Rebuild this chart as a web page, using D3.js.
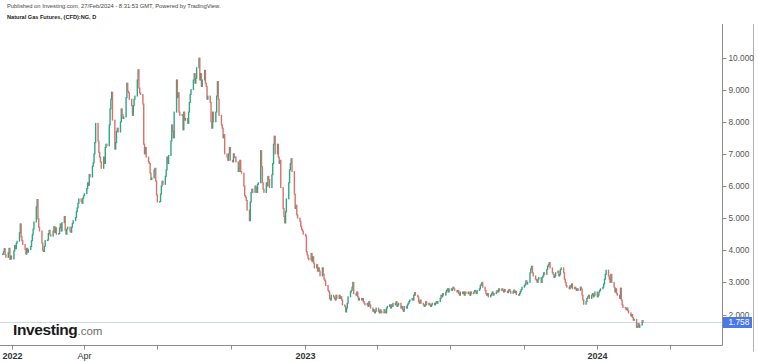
<!DOCTYPE html>
<html>
<head>
<meta charset="utf-8">
<script src="https://cdn.jsdelivr.net/npm/d3@7"></script>
<style>
  body { margin: 0; background: #fff; }
  svg { display: block; font-family: "Liberation Sans", Arial, sans-serif; }
</style>
</head>
<body>
<svg id="chart" width="758" height="362"></svg>
<script>
// daily closes, weekdays only
var closes2021 = [3.88, 3.95, 4.05, 3.86, 3.78, 3.92, 4.06, 3.72, 3.82, 3.73];
var closes2022 = [
  3.98, 4.15, 4.05, 4.22, 4.28,  4.55, 4.82, 4.42, 4.30, 4.18,  4.02, 3.88, 4.06, 3.94, 4.02,
  4.12, 4.30, 4.48, 4.66, 4.88,  5.35, 5.58, 4.98, 4.72, 4.60,  4.22, 4.00, 3.96, 4.12, 4.30,
  4.32, 4.52, 4.62, 4.48, 4.44,  4.60, 4.74, 4.55, 4.70, 4.50,  4.52, 4.70, 4.82, 4.60, 4.86,
  5.05, 4.62, 4.50, 4.66, 4.72,  4.60, 4.56, 4.72, 4.84, 4.92,  5.02, 5.20, 5.32, 5.46, 5.60,
  5.52, 5.46, 5.62, 5.70, 5.76,  5.92, 6.10, 6.02, 6.36, 6.28,  6.62, 6.72, 7.00, 7.35, 7.95,
  7.40, 7.05, 6.90, 6.75, 6.55,  6.90, 6.70, 7.20, 7.30, 7.25,  7.90, 8.40, 8.70, 8.92, 8.05,
  7.15, 7.35, 7.70, 7.80, 7.68,  8.00, 8.40, 8.22, 8.10, 8.15,  8.75, 9.20, 8.95, 8.90, 8.70,
  8.50, 8.20, 8.50, 8.70, 8.80,  9.30, 9.62, 9.05, 8.90, 8.85,  8.55, 7.30, 7.00, 7.20, 6.90,
  6.75, 6.70, 6.40, 6.20, 6.25,  6.50, 6.55, 6.15, 5.72, 5.50,  5.52, 5.75, 6.00, 6.15, 6.05,
  6.30, 6.50, 6.90, 6.70, 6.95,  7.40, 7.90, 7.70, 7.50, 8.30,  9.30, 8.75, 8.90, 8.30, 8.20,
  8.22, 7.75, 8.30, 8.05, 8.10,  7.95, 8.30, 8.60, 8.85, 9.00,  9.30, 9.50, 9.20, 9.35, 9.68,
  9.98, 9.30, 9.50, 9.10, 9.30,  9.60, 9.20, 9.10, 8.70, 8.80,  8.60, 8.00, 7.80, 8.30, 8.00,
  8.30, 8.80, 9.25, 8.70, 8.20,  7.90, 7.80, 7.50, 7.60, 7.00,  6.90, 6.80, 7.00, 7.20, 6.80,
  6.75, 7.00, 6.90, 6.90, 6.75,  6.45, 6.55, 6.80, 6.45, 6.40,  6.00, 5.70, 5.65, 5.55, 5.25,
  4.92, 5.50, 5.80, 5.90, 5.80,  6.00, 5.95, 5.80, 6.05, 6.10,  7.10, 6.60, 6.10, 5.90, 5.80,
  6.10, 6.00, 6.30, 6.20, 5.95,  6.35, 6.70, 7.30, 7.55, 7.00,  7.30, 6.90, 6.70, 6.80, 5.95,
  5.30, 5.05, 4.85, 5.20, 5.60,  6.10, 6.50, 6.70, 6.85, 6.45,  5.75, 5.30, 5.40, 5.10, 5.00,
  4.90, 4.75, 4.65, 4.60, 4.50
];
var closes2023 = [
  4.45, 3.95, 3.85, 3.75, 3.70,  3.90, 3.65, 3.80, 3.60, 3.45,  3.55, 3.35, 3.45, 3.35, 3.20,
  3.45, 3.25, 3.10, 3.05, 2.90,  2.75, 2.70, 2.50, 2.45, 2.60,  2.55, 2.50, 2.45, 2.60, 2.50,
  2.60, 2.50, 2.55, 2.45, 2.30,  2.25, 2.08, 2.20, 2.35, 2.55,  2.70, 2.75, 2.85, 3.00, 2.65,
  2.60, 2.70, 2.55, 2.45, 2.50,  2.45, 2.50, 2.40, 2.35, 2.30,  2.35, 2.25, 2.40, 2.30, 2.20,
  2.10, 2.15, 2.05, 2.10, 2.20,  2.10, 2.05, 2.15, 2.10, 2.05,  2.15, 2.10, 2.05, 2.20, 2.25,
  2.30, 2.20, 2.30, 2.25, 2.35,  2.30, 2.40, 2.25, 2.30, 2.35,  2.20, 2.25, 2.15, 2.10, 2.25,
  2.20, 2.30, 2.35, 2.40, 2.45,  2.50, 2.45, 2.60, 2.68, 2.60,  2.55, 2.40, 2.35, 2.45, 2.35,
  2.30, 2.25, 2.30, 2.40, 2.30,  2.35, 2.30, 2.25, 2.30, 2.35,  2.30, 2.35, 2.40, 2.35, 2.40,
  2.50, 2.60, 2.55, 2.65, 2.60,  2.70, 2.75, 2.80, 2.70, 2.80,  2.75, 2.80, 2.85, 2.80, 2.75,
  2.70, 2.75, 2.65, 2.60, 2.70,  2.65, 2.70, 2.60, 2.70, 2.65,  2.70, 2.65, 2.60, 2.70, 2.65,
  2.70, 2.75, 2.70, 2.65, 2.75,  2.80, 2.90, 2.95, 3.00, 2.85,  2.75, 2.65, 2.60, 2.65, 2.55,
  2.60, 2.65, 2.70, 2.60, 2.65,  2.70, 2.75, 2.70, 2.80, 2.75,  2.80, 2.75, 2.70, 2.78, 2.72,
  2.68, 2.74, 2.78, 2.72, 2.66,  2.72, 2.76, 2.68, 2.72, 2.62,  2.60, 2.66, 2.72, 2.78, 2.85,
  2.90, 2.95, 3.05, 2.95, 3.00,  3.30, 3.42, 3.50, 3.30, 3.20,  3.10, 3.05, 3.00, 3.10, 3.15,
  3.00, 3.15, 3.20, 3.30, 3.25,  3.40, 3.50, 3.55, 3.62, 3.45,  3.30, 3.25, 3.15, 3.20, 3.30,
  3.35, 3.20, 3.25, 3.40, 3.45,  3.30, 3.10, 3.00, 2.90, 2.85,  2.80, 2.90, 2.85, 2.95, 2.80,
  2.85, 2.80, 2.75, 2.80, 2.75,  2.85, 2.80, 2.60, 2.45, 2.32,  2.40, 2.50, 2.55, 2.60, 2.50,
  2.60, 2.65, 2.55, 2.60, 2.70
];
var closes2024 = [
  2.55, 2.60, 2.70, 2.75, 2.80,  2.85, 2.95, 3.10, 3.25, 3.38,  3.20, 3.10, 3.00, 3.25, 3.00,
  2.85, 2.70, 2.80, 2.65, 2.60,  2.50, 2.82, 2.45, 2.30, 2.22,  2.20, 2.15, 2.20, 2.12, 2.05,
  1.95, 2.00, 1.90, 1.82, 1.85,  1.60, 1.63, 1.72, 1.60, 1.67,  1.81, 1.758
];
var seriesStarts = ["2021-12-20", "2022-01-03", "2023-01-02", "2024-01-01"];

var priceTicks = [2, 3, 4, 5, 6, 7, 8, 9, 10];
var timeLabels = { "2022-01": "2022", "2022-04": "Apr", "2023-01": "2023", "2024-01": "2024" };
var lastPrice = 1.758;

var plotRight = 722.5, plotTop = 24, plotBottom = 345.5;

function weekdays(start, n) {
  var out = [], d = new Date(start + "T00:00:00");
  while (out.length < n) {
    var w = d.getDay();
    if (w > 0 && w < 6) out.push(new Date(d));
    d.setDate(d.getDate() + 1);
  }
  return out;
}

var candles = [];
[closes2021, closes2022, closes2023, closes2024].forEach(function(arr, k) {
  var dates = weekdays(seriesStarts[k], arr.length);
  arr.forEach(function(c, i) {
    var prev = candles.length ? candles[candles.length - 1].close : c;
    candles.push({ date: dates[i], open: prev, close: c });
  });
});

var x = d3.scaleTime()
    .domain([new Date(2022, 0, 1), new Date(2024, 0, 1)])
    .range([12.3, 597.3]);
var y = d3.scaleLinear()
    .domain([2, 10])
    .range([314.5, 57.5]);

var svg = d3.select("#chart");

// header
svg.append("text")
    .attr("x", 7).attr("y", 8)
    .attr("font-size", 5.8).attr("fill", "#444")
    .text("Published on Investing.com, 27/Feb/2024 - 8:31:53 GMT, Powered by TradingView.");
svg.append("text")
    .attr("x", 7).attr("y", 19)
    .attr("font-size", 5.6).attr("font-weight", "bold").attr("fill", "#222")
    .text("Natural Gas Futures, (CFD):NG, D");

svg.append("clipPath").attr("id", "plot")
  .append("rect").attr("x", 0).attr("y", plotTop).attr("width", plotRight).attr("height", plotBottom - plotTop);

var plot = svg.append("g").attr("clip-path", "url(#plot)");

// last price line
plot.append("line")
    .attr("x1", 0).attr("x2", plotRight)
    .attr("y1", Math.round(y(lastPrice)) + 0.5).attr("y2", Math.round(y(lastPrice)) + 0.5)
    .attr("stroke", "#cfd8ea").attr("stroke-width", 1);

plot.selectAll("rect.c")
    .data(candles)
  .enter().append("rect")
    .attr("class", "c")
    .attr("x", function(d) { return x(d.date) - 0.7; })
    .attr("width", 1.4)
    .attr("y", function(d) { return y(Math.max(d.open, d.close)) - 0.5; })
    .attr("height", function(d) { return Math.max(1.5, Math.abs(y(d.open) - y(d.close)) + 1); })
    .attr("fill", function(d) { return d.close >= d.open ? "#2fa584" : "#d9716b"; });

// Investing.com mark
var logo = svg.append("text").attr("x", 13).attr("y", 334.5);
logo.append("tspan").attr("font-size", 15.5).attr("font-weight", "bold").attr("fill", "#1a1a1a")
    .attr("letter-spacing", -0.4).text("Investing");
logo.append("tspan").attr("font-size", 11.5).attr("fill", "#6b6b6b").text(".com");

// time axis
svg.append("line")
    .attr("x1", 0).attr("x2", plotRight)
    .attr("y1", plotBottom).attr("y2", plotBottom)
    .attr("stroke", "#8c8c8c");
var quarters = d3.timeMonth.every(3).range(x.invert(0), x.invert(plotRight));
var tx = svg.append("g").selectAll("g")
    .data(quarters)
  .enter().append("g")
    .attr("transform", function(d) { return "translate(" + (Math.round(x(d)) + 0.5) + ",0)"; });
tx.append("line").attr("y1", plotBottom).attr("y2", plotBottom + 4).attr("stroke", "#8c8c8c");
tx.append("text")
    .attr("y", 359).attr("text-anchor", "middle").attr("font-size", 9).attr("fill", "#333")
    .attr("font-weight", function(d) { return d.getMonth() === 0 ? "bold" : "normal"; })
    .text(function(d) { return timeLabels[d3.timeFormat("%Y-%m")(d)] || ""; });

// price axis
svg.append("line")
    .attr("x1", plotRight).attr("x2", plotRight)
    .attr("y1", plotTop).attr("y2", plotBottom)
    .attr("stroke", "#8c8c8c");
svg.append("line")
    .attr("x1", 753.5).attr("x2", 753.5)
    .attr("y1", plotTop).attr("y2", plotBottom + 6)
    .attr("stroke", "#b0b0b0");
var ty = svg.append("g").selectAll("g")
    .data(priceTicks)
  .enter().append("g")
    .attr("transform", function(d) { return "translate(0," + (Math.round(y(d)) + 0.5) + ")"; });
ty.append("line").attr("x1", plotRight).attr("x2", plotRight + 4).attr("stroke", "#8c8c8c");
ty.append("text")
    .attr("x", 728.5).attr("dy", "0.35em").attr("font-size", 8.3).attr("fill", "#555")
    .text(function(d) { return d3.format(".3f")(d); });

// last price tag
var ly = Math.round(y(lastPrice)) + 0.5;
svg.append("rect")
    .attr("x", plotRight + 0.5).attr("y", ly - 5.5).attr("width", 29).attr("height", 11)
    .attr("fill", "#4a78e6");
svg.append("text")
    .attr("x", 728.5).attr("y", ly).attr("dy", "0.35em").attr("font-size", 8.3).attr("fill", "#fff")
    .text(d3.format(".3f")(lastPrice));
</script>
</body>
</html>
